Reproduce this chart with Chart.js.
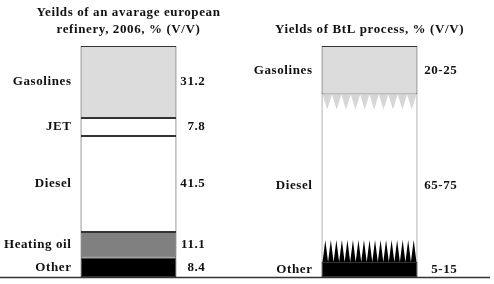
<!DOCTYPE html>
<html>
<head>
<meta charset="utf-8">
<script src="https://cdn.jsdelivr.net/npm/chart.js@4/dist/chart.umd.min.js"></script>
<style>
  html, body { margin: 0; padding: 0; background: #fff; }
  canvas { display: block; }
</style>
</head>
<body>
<canvas id="yields" width="494" height="284"></canvas>
<script>
// panels
const panels = ['refinery', 'BtL'];
const panelTitles = [
  ['Yeilds of an avarage european', 'refinery, 2006, % (V/V)'],
  ['Yields of BtL process, % (V/V)']
];

// refinery yields, % (V/V), top to bottom
const refProducts = ['Gasolines', 'JET', 'Diesel', 'Heating oil', 'Other'];
const refValues = [31.2, 7.8, 41.5, 11.1, 8.4];
const refColors = ['#dcdcdc', '#ffffff', '#ffffff', '#808080', '#000000'];

// BtL yields, given as ranges
const btlProducts = ['Gasolines', 'Diesel', 'Other'];
const btlRanges = ['20-25', '65-75', '5-15'];
const btlColors = ['#dcdcdc', '#ffffff', '#000000'];
// where each band sits in the bar (% from the top)
const btlSolid = [[0, 21], [21, 100], [93.5, 100]];
const btlFringe = [[21, 27.5], null, [84, 93.5]];

const FONT = 'bold 13px "Liberation Serif", "Times New Roman", serif';

const datasets = [];

// refinery bar: cumulative floating segments
let acc = 0;
refValues.forEach((v, i) => {
  datasets.push({
    label: refProducts[i],
    data: [[acc, acc + v], null],
    backgroundColor: refColors[i],
    borderColor: '#333',
    borderWidth: 1,
    borderSkipped: false,
    tag: { text: refProducts[i], value: v.toFixed(1) }
  });
  acc += v;
});

// BtL bar
btlProducts.forEach((p, i) => {
  const isDiesel = p === 'Diesel';
  datasets.push({
    label: p,
    data: [null, btlSolid[i]],
    backgroundColor: btlColors[i],
    borderColor: isDiesel ? '#666' : '#333',
    borderWidth: isDiesel ? { left: 1, right: 1, top: 0, bottom: 0 } : 1,
    borderSkipped: false,
    order: isDiesel ? 1 : 0,
    tag: { text: p, value: btlRanges[i] }
  });
  if (btlFringe[i]) {
    datasets.push({
      label: p + ' range',
      data: [null, btlFringe[i]],
      backgroundColor: 'rgba(0,0,0,0)',
      borderWidth: 0,
      fringe: { color: i === 0 ? '#d6d6d6' : '#000000', dir: i === 0 ? 'down' : 'up', n: i === 0 ? 10 : 17 }
    });
  }
});

const valueGap = [29, 40];

const panelText = {
  id: 'panelText',
  afterDatasetsDraw(chart) {
    const ctx = chart.ctx;
    const area = chart.chartArea;
    const xs = chart.scales.x;

    // spiky edges for the ranges
    chart.data.datasets.forEach((ds, di) => {
      if (!ds.fringe) return;
      const el = chart.getDatasetMeta(di).data[1];
      const left = el.x - el.width / 2 + 1;
      const w = el.width - 2;
      const top = Math.min(el.y, el.base);
      const bot = Math.max(el.y, el.base);
      const step = w / ds.fringe.n;
      ctx.save();
      ctx.fillStyle = ds.fringe.color;
      ctx.beginPath();
      for (let k = 0; k < ds.fringe.n; k++) {
        const x0 = left + k * step;
        if (ds.fringe.dir === 'down') {
          ctx.moveTo(x0, top);
          ctx.lineTo(x0 + step, top);
          ctx.lineTo(x0 + step / 2, bot);
        } else {
          ctx.moveTo(x0, bot);
          ctx.lineTo(x0 + step, bot);
          ctx.lineTo(x0 + step / 2, top);
        }
        ctx.closePath();
      }
      ctx.fill();
      ctx.restore();
    });

    // baseline
    ctx.save();
    ctx.strokeStyle = '#333';
    ctx.lineWidth = 1.5;
    ctx.beginPath();
    ctx.moveTo(0, area.bottom + 0.5);
    ctx.lineTo(490, area.bottom + 0.5);
    ctx.stroke();

    ctx.font = FONT;
    ctx.letterSpacing = '0.6px';
    ctx.fillStyle = '#111';
    ctx.textBaseline = 'middle';

    // titles
    ctx.textAlign = 'center';
    panelTitles.forEach((lines, p) => {
      const cx = xs.getPixelForValue(p);
      const y0 = lines.length > 1 ? 13 : 30;
      lines.forEach((t, li) => ctx.fillText(t, cx, y0 + li * 17));
    });

    // product names on the left, values on the right
    chart.data.datasets.forEach((ds, di) => {
      if (!ds.tag) return;
      const p = ds.data[0] ? 0 : 1;
      const el = chart.getDatasetMeta(di).data[p];
      const y = (el.y + el.base) / 2;
      ctx.textAlign = 'right';
      ctx.fillText(ds.tag.text, el.x - el.width / 2 - 9, y);
      ctx.fillText(ds.tag.value, el.x + el.width / 2 + valueGap[p], y);
    });
    ctx.restore();
  }
};

new Chart(document.getElementById('yields'), {
  type: 'bar',
  data: { labels: panels, datasets: datasets },
  options: {
    responsive: false,
    animation: false,
    devicePixelRatio: 1,
    layout: { padding: { top: 46, bottom: 7, left: 8, right: 4 } },
    plugins: { legend: { display: false }, tooltip: { enabled: false } },
    datasets: { bar: { barPercentage: 0.398, categoryPercentage: 1 } },
    scales: {
      x: { stacked: true, display: false },
      y: { min: 0, max: 100, reverse: true, display: false }
    }
  },
  plugins: [panelText]
});
</script>
</body>
</html>
